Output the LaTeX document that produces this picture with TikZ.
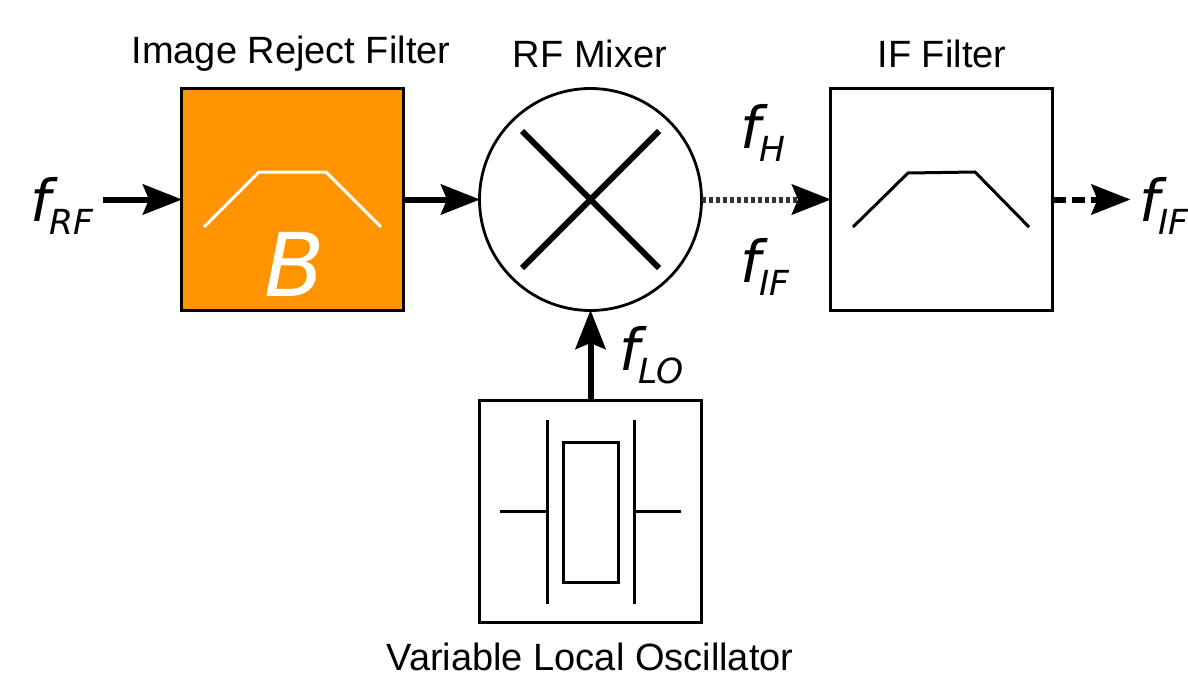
\documentclass[tikz,border=0pt]{standalone}
\usepackage{fontspec}
\setmainfont{Liberation Sans}
\newfontfamily\mathfont{DejaVu Sans}
\usetikzlibrary{arrows.meta}
\definecolor{filterorange}{HTML}{FF9400}
\newcommand{\fsym}[1]{{\mathfont\itshape{\fontsize{58}{58}\selectfont f}\kern-1.5pt{\fontsize{34.5}{36}\selectfont\raisebox{-13pt}{#1}}}}
\tikzset{
  x=1pt,y=-1pt,
  block/.style={draw=black,line width=2.8pt,minimum width=222pt,minimum height=222pt,inner sep=0pt,outer sep=0pt},
  mixer/.style={draw=black,line width=2.8pt,circle,minimum size=222pt,inner sep=0pt,outer sep=0pt},
  sig/.style={line width=6pt,-{Stealth[length=39pt,width=30pt,inset=6pt]},shorten >=-0.5pt},
  title/.style={font=\fontsize{38}{40}\selectfont,inner sep=0pt,anchor=base},
  freq/.style={inner sep=0pt,anchor=base west},
  shape line/.style={line width=3pt},
}
\begin{document}
\begin{tikzpicture}
\useasboundingbox (0,0) rectangle (1188,680);
\node[block,fill=filterorange] (rej) at (292.5,199.5) {};
\node[mixer] (mix) at (590.5,199.5) {};
\node[block] (iff) at (941.5,199.5) {};
\node[block] (lo) at (590.5,511.5) {};
\coordinate (inp) at (103,199.5);
\coordinate (out) at (1130,199.5);
\node[title] (t1) at (291,63) {Image Reject Filter};
\node[title] (t2) at (590,67) {RF Mixer};
\node[title] (t3) at (942,67.5) {IF Filter};
\node[title] (t4) at (590,670) {Variable Local Oscillator};
\node[freq] (l1) at (30,221) {\fsym{RF}};
\node[freq] (l2) at (740,148) {\fsym{H}};
\node[freq] (l3) at (740,282) {\fsym{IF}};
\node[freq] (l4) at (1139,221) {\fsym{IF}};
\node[freq] (l5) at (619,370) {\fsym{LO}};
\node[inner sep=0pt,anchor=base,text=white] (bb) at (295,296) {\mathfont\itshape\fontsize{88}{88}\selectfont B};
\draw[shape line,white] (204,227) -- (259,172) -- (326,172) -- (381,227);
\draw[shape line] (853,227) -- (908,173) -- (975,172) -- (1029,227);
\draw[line width=6pt] (522,131) -- (659,268) (522,268) -- (659,131);
\draw[shape line] (500,511.5) -- (547,511.5) (547,420) -- (547,604);
\draw[shape line] (681,511.5) -- (634,511.5) (634,420) -- (634,604);
\draw[shape line] (563,442) rectangle (618,582);
\draw[sig] (inp) -- (rej.west);
\draw[sig] (rej.east) -- (mix.west);
\draw[sig] (lo.north) -- (mix.south);
\draw[sig,draw=black!80,dash pattern=on 4pt off 3pt,-{Stealth[length=39pt,width=30pt,inset=6pt,color=black,fill=black]}] (mix.east) -- (iff.west);
\draw[sig,dash pattern=on 13pt off 6pt] (iff.east) -- (out);
\end{tikzpicture}
\end{document}
